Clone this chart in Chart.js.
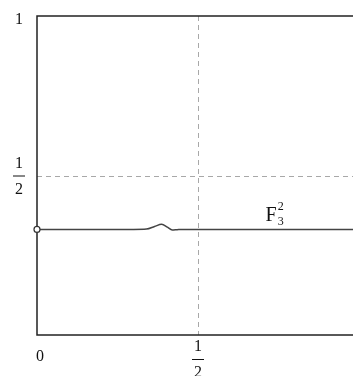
<!DOCTYPE html>
<html>
<head>
<meta charset="utf-8">
<script src="https://cdn.jsdelivr.net/npm/chart.js@4/dist/chart.umd.min.js"></script>
<style>
  html, body { margin: 0; padding: 0; background: #fff; overflow: hidden; }
  #wrap { width: 353px; height: 376px; overflow: hidden; }
</style>
</head>
<body>
<div id="wrap"><canvas id="c" width="380" height="376"></canvas></div>
<script>
// Curve F_3^2: nearly flat near 1/3 with a small bump
const curveX = [0, 0.30, 0.34, 0.365, 0.387, 0.405, 0.42, 0.435, 0.45, 0.60, 0.80, 1.0];
const curveY = [0.331, 0.331, 0.332, 0.340, 0.347, 0.338, 0.329, 0.330, 0.331, 0.331, 0.331, 0.331];

// Axis tick labels ("n/d" drawn as a stacked fraction)
const xTickValues = [0, 0.5, 1];
const xTickLabels = ['0', '1/2', '1'];
const yTickValues = [0.5, 1];
const yTickLabels = ['1/2', '1'];

// Dashed guide lines
const guideX = [0.5];
const guideY = [0.5];

const seriesName = 'F';
const seriesSub = '3';
const seriesSup = '2';
const seriesLabelAt = { x: 0.71, y: 0.38 };

const points = curveX.map((x, i) => ({ x: x, y: curveY[i] }));
const SERIF = '"Liberation Serif", "DejaVu Serif", serif';

function drawLabel(ctx, text, cx, cy, size) {
  ctx.font = size + 'px ' + SERIF;
  ctx.textAlign = 'center';
  ctx.textBaseline = 'middle';
  if (text.indexOf('/') >= 0) {
    const [n, d] = text.split('/');
    ctx.fillText(n, cx, cy - 12);
    ctx.fillText(d, cx, cy + 14);
    ctx.beginPath();
    ctx.lineWidth = 1;
    ctx.moveTo(cx - 6, cy + 0.5);
    ctx.lineTo(cx + 6, cy + 0.5);
    ctx.stroke();
  } else {
    ctx.fillText(text, cx, cy);
  }
}

const decor = {
  id: 'decor',
  beforeDatasetsDraw(chart) {
    const { ctx, chartArea: a, scales: { x, y } } = chart;
    ctx.save();
    // dashed guides
    ctx.strokeStyle = '#a8a8a8';
    ctx.lineWidth = 1;
    ctx.setLineDash([5, 4]);
    guideX.forEach(v => {
      const px = Math.round(x.getPixelForValue(v)) + 0.5;
      ctx.beginPath(); ctx.moveTo(px, a.top); ctx.lineTo(px, a.bottom); ctx.stroke();
    });
    guideY.forEach(v => {
      const py = Math.round(y.getPixelForValue(v)) + 0.5;
      ctx.beginPath(); ctx.moveTo(a.left, py); ctx.lineTo(a.right, py); ctx.stroke();
    });
    ctx.setLineDash([]);
    // frame
    ctx.strokeStyle = '#222';
    ctx.lineWidth = 1.5;
    ctx.strokeRect(a.left, a.top, a.right - a.left, a.bottom - a.top);
    ctx.restore();
  },
  afterDatasetsDraw(chart) {
    const { ctx, chartArea: a, scales: { x, y } } = chart;
    ctx.save();
    ctx.fillStyle = '#111';
    ctx.strokeStyle = '#111';
    // x tick labels
    xTickValues.forEach((v, i) => {
      const px = x.getPixelForValue(v) + (v === 0 ? 3 : 0);
      const frac = xTickLabels[i].indexOf('/') >= 0;
      drawLabel(ctx, xTickLabels[i], px, frac ? a.bottom + 24 : a.bottom + 22, 16);
    });
    // y tick labels
    yTickValues.forEach((v, i) => {
      const py = y.getPixelForValue(v);
      const frac = yTickLabels[i].indexOf('/') >= 0;
      drawLabel(ctx, yTickLabels[i], a.left - 18, frac ? py : py + 4, 16);
    });
    // series label F_3^2
    const lx = x.getPixelForValue(seriesLabelAt.x);
    const ly = y.getPixelForValue(seriesLabelAt.y);
    ctx.textAlign = 'left';
    ctx.textBaseline = 'alphabetic';
    ctx.font = '20px ' + SERIF;
    ctx.fillText(seriesName, lx, ly + 7);
    const w = ctx.measureText(seriesName).width;
    ctx.font = '12px ' + SERIF;
    ctx.fillText(seriesSup, lx + w + 1, ly - 4);
    ctx.fillText(seriesSub, lx + w + 1, ly + 11);
    ctx.restore();
  }
};

new Chart(document.getElementById('c'), {
  type: 'line',
  data: {
    datasets: [{
      data: points,
      borderColor: '#444',
      borderWidth: 1.5,
      tension: 0.4,
      cubicInterpolationMode: 'monotone',
      pointRadius: points.map((p, i) => i === 0 ? 3 : 0),
      pointBackgroundColor: '#fff',
      pointBorderColor: '#333',
      pointBorderWidth: 1.2
    }]
  },
  options: {
    responsive: false,
    animation: false,
    devicePixelRatio: 1,
    layout: { padding: { left: 37, top: 16, right: 21, bottom: 41 } },
    plugins: { legend: { display: false }, tooltip: { enabled: false } },
    scales: {
      x: { type: 'linear', min: 0, max: 1, display: false },
      y: { type: 'linear', min: 0, max: 1, display: false }
    },
    clip: false
  },
  plugins: [decor]
});
</script>
</body>
</html>
